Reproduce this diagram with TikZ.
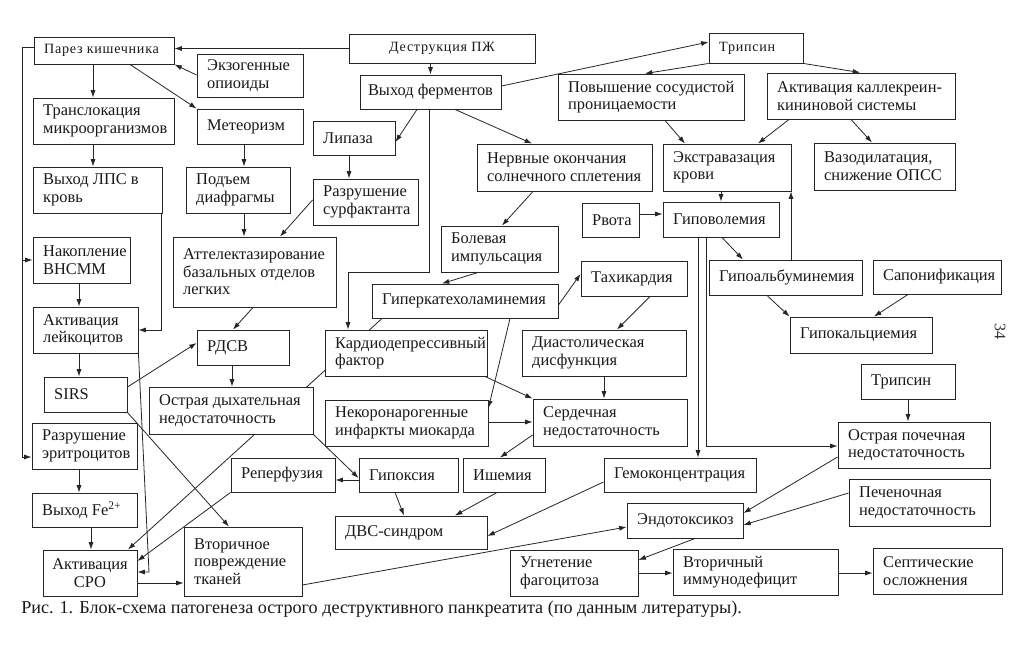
\documentclass[tikz,border=0pt]{standalone}
\usepackage{fontspec}
\setmainfont{Liberation Serif}
\newfontfamily\spacedfont[LetterSpace=5]{Liberation Serif}
\usetikzlibrary{arrows.meta,backgrounds}
\newcommand\bx[7][]{%
  \pgfmathsetmacro\bxw{(#5-#3)*0.75}%
  \pgfmathsetmacro\bxh{(#6-#4)*0.75}%
  \node[box,minimum width=\bxw pt,minimum height=\bxh pt] (#2) at ({(#3+#5)/2},{(#4+#6)/2}) {};%
  \node[txt,anchor=west,#1] at ([xshift=7.8pt]#2.west) {#7};%
}
\newcommand\bxc[7][]{%
  \pgfmathsetmacro\bxw{(#5-#3)*0.75}%
  \pgfmathsetmacro\bxh{(#6-#4)*0.75}%
  \node[box,minimum width=\bxw pt,minimum height=\bxh pt] (#2) at ({(#3+#5)/2},{(#4+#6)/2}) {};%
  \node[txt,align=center,#1] at (#2.center) {#7};%
}
\begin{document}
\begin{tikzpicture}[x=0.75pt,y=-0.75pt,
  box/.style={draw=black!85, line width=0.7pt, fill=white, inner sep=0pt},
  txt/.style={font=\fontsize{12.3}{13.2}\selectfont, align=left, inner sep=0pt, text=black!90},
  sm/.style={font=\spacedfont\fontsize{10.6}{12}\selectfont},
  arr/.style={draw=black!85, line width=0.6pt, -{Latex[length=5.5pt,width=3.8pt]}},
  ln/.style={draw=black!85, line width=0.6pt}]
\useasboundingbox (0,0) rectangle (1028,650);
% boxes
\bx[sm]{parez}{34}{37}{174}{64}{Парез кишечника}
\bx{ekzo}{197}{54}{303}{97}{Экзогенные\\опиоиды}
\bx{transl}{33}{98}{174}{144}{Транслокация\\микроорганизмов}
\bx{meteo}{197}{109}{303}{144}{Метеоризм}
\bx{lps}{33}{167}{162}{213}{Выход ЛПС в\\кровь}
\bx{podem}{186}{167}{290}{213}{Подъем\\диафрагмы}
\bx{lipaza}{313}{121}{395}{155}{Липаза}
\bx{surf}{313}{179}{418}{225}{Разрушение\\сурфактанта}
\bxc[sm]{destr}{349}{34}{535}{63}{Деструкция ПЖ}
\bxc{vyhod}{360}{75}{501}{109}{Выход ферментов}
\bx[sm]{tripsin1}{709}{33}{803}{63}{Трипсин}
\bx{povysh}{558}{74}{744}{120}{Повышение сосудистой\\проницаемости}
\bx{kall}{767}{73}{955}{119}{Активация каллекреин-\\кининовой системы}
\bx{nerv}{477}{144}{652}{191}{Нервные окончания\\солнечного сплетения}
\bx{ekstr}{663}{144}{791}{191}{Экстравазация\\крови}
\bx{vazo}{814}{143}{955}{190}{Вазодилатация,\\снижение ОПСС}
\bx{rvota}{582}{203}{639}{237}{Рвота}
\bx{gipovol}{663}{202}{779}{237}{Гиповолемия}
\bx{bolev}{441}{226}{558}{272}{Болевая\\импульсация}
\bx{nakop}{33}{237}{130}{283}{Накопление\\ВНСММ}
\bx{attel}{173}{237}{336}{307}{Аттелектазирование\\базальных отделов\\легких}
\bx{giperk}{372}{284}{558}{318}{Гиперкатехоламинемия}
\bx{tahi}{581}{261}{687}{296}{Тахикардия}
\bx{gipoalb}{709}{260}{862}{295}{Гипоальбуминемия}
\bx{sapon}{873}{260}{1001}{294}{Сапонификация}
\bx{gipokal}{790}{317}{932}{353}{Гипокальциемия}
\bx{aktlejk}{33}{307}{138}{353}{Активация\\лейкоцитов}
\bx{rdsv}{197}{330}{289}{365}{РДСВ}
\bx{kardio}{325}{330}{487}{376}{Кардиодепрессивный\\фактор}
\bx{diast}{522}{330}{686}{376}{Диастолическая\\дисфункция}
\bx{tripsin2}{861}{364}{955}{399}{Трипсин}
\bx{sirs}{44}{377}{127}{412}{SIRS}
\bx{odn}{149}{387}{313}{434}{Острая дыхательная\\недостаточность}
\bx{nekor}{325}{400}{488}{446}{Некоронарогенные\\инфаркты миокарда}
\bx{serd}{533}{399}{687}{446}{Сердечная\\недостаточность}
\bx{razer}{32}{423}{137}{469}{Разрушение\\эритроцитов}
\bx{opn}{838}{422}{990}{468}{Острая почечная\\недостаточность}
\bx{reperf}{231}{458}{335}{492}{Реперфузия}
\bx{gipoks}{359}{458}{458}{492}{Гипоксия}
\bx{ishem}{463}{458}{545}{492}{Ишемия}
\bx{gemok}{604}{458}{756}{492}{Гемоконцентрация}
\bx{pechen}{849}{479}{990}{526}{Печеночная\\недостаточность}
\bx{fe}{32}{493}{137}{527}{Выход Fe\textsuperscript{2+}}
\bx{endot}{627}{503}{743}{538}{Эндотоксикоз}
\bx{dvs}{335}{516}{487}{549}{ДВС-синдром}
\bx{vtorpovr}{184}{527}{302}{596}{Вторичное\\повреждение\\тканей}
\bxc{sro}{43}{550}{137}{596}{Активация\\СРО}
\bx{ugnet}{510}{550}{638}{596}{Угнетение\\фагоцитоза}
\bx{immun}{673}{549}{838}{595}{Вторичный\\иммунодефицит}
\bx{sept}{873}{548}{1002}{594}{Септические\\осложнения}
\node[anchor=base west, inner sep=0pt, font=\fontsize{13.6}{15}\selectfont, text=black!90] (cap) at (21,613) {Рис. 1. Блок-схема патогенеза острого деструктивного панкреатита (по данным литературы).};
\node[rotate=-90, inner sep=0pt, font=\fontsize{12}{14}\selectfont, text=black!80] (page) at (1000,331) {34};
\begin{pgfonlayer}{background}
\fill[white] (0,0) rectangle (1028,650);
\draw[arr] (destr.west) -- (destr.west -| parez.east);
\draw[arr] (vyhod.north |- destr.south) -- (vyhod.north);
\draw[arr] (vyhod.east |- 0,86) -- (tripsin1.west |- 0,42);
\draw[arr] (tripsin1.south west) -- (povysh.north -| 645,0);
\draw[arr] (tripsin1.south east) -- (kall.north -| 860,0);
\draw[arr] (povysh.south -| 665,0) -- (ekstr.north -| 685,0);
\draw[arr] (kall.south -| 789,0) -- (ekstr.north -| 758,0);
\draw[arr] (kall.south -| 851,0) -- (vazo.north -| 872,0);
\draw[arr] (vyhod.south -| 417,0) -- (lipaza.east |- 0,142);
\draw[arr] (vyhod.south -| 455,0) -- (nerv.north -| 532,0);
\draw[arr] (vyhod.south -| 429,0) -- (429,272) -- (348,272) -- (kardio.north -| 348,0);
\draw[arr] (lipaza.south -| 349,0) -- (surf.north -| 349,0);
\draw[arr] (surf.west |- 0,200) -- (attel.north -| 280,0);
\draw[arr] (parez.south -| 93,0) -- (transl.north -| 93,0);
\draw[arr] (parez.south -| 130,0) -- (meteo.north west);
\draw[arr] (ekzo.west |- 0,75) -- (parez.south east);
\draw[arr] (transl.south -| 93,0) -- (lps.north -| 93,0);
\draw[arr] (meteo.south -| 244,0) -- (podem.north -| 244,0);
\draw[arr] (podem.south -| 244,0) -- (attel.north -| 244,0);
\draw[arr] (parez.west |- 0,47) -- (22,47) -- (22,457) -- (razer.west |- 0,457);
\draw[arr] (22,260) -- (nakop.west |- 0,260);
\draw[arr] (lps.south -| 161,0) -- (161,330) -- (aktlejk.east |- 0,330);
\draw[arr] (nakop.south -| 79,0) -- (aktlejk.north -| 79,0);
\draw[arr] (aktlejk.south -| 79,0) -- (sirs.north -| 79,0);
\draw[arr] (aktlejk.south east) -- (149,572) -- (sro.east |- 0,572);
\draw[arr] (sirs.east |- 0,387) -- (rdsv.west |- 0,343);
\draw[arr] (sirs.south east) -- (vtorpovr.north -| 229,0);
\draw[arr] (attel.south -| 253,0) -- (rdsv.north -| 233,0);
\draw[arr] (rdsv.south -| 232,0) -- (odn.north -| 232,0);
\draw[arr] (giperk.south -| 382,0) -- (sro.north -| 128,0);
\draw[arr] (odn.south east) -- (gipoks.west |- 0,478);
\draw[arr] (reperf.south west) -- (sro.east |- 0,561);
\draw[arr] (gipoks.west |- 0,480) -- (reperf.east |- 0,480);
\draw[arr] (giperk.east |- 0,305) -- (tahi.west |- 0,274);
\draw[arr] (giperk.south -| 510,0) -- (nekor.east |- 0,408);
\draw[arr] (tahi.south -| 650,0) -- (diast.north -| 617,0);
\draw[arr] (diast.south -| 604,0) -- (serd.north -| 604,0);
\draw[arr] (kardio.south -| 485,0) -- (serd.north west);
\draw[arr] (nekor.east |- 0,422) -- (serd.west |- 0,422);
\draw[arr] (serd.west |- 0,435) -- (ishem.north -| 500,0);
\draw[arr] (gipoks.south -| 395,0) -- (dvs.north -| 404,0);
\draw[arr] (ishem.south -| 497,0) -- (dvs.north -| 455,0);
\draw[arr] (gemok.west |- 0,482) -- (dvs.east |- 0,536);
\draw[arr] (vtorpovr.east |- 0,585) -- (endot.west |- 0,527);
\draw[arr] (endot.south -| 695,0) -- (ugnet.east |- 0,560);
\draw[arr] (ugnet.east |- 0,573) -- (immun.west |- 0,573);
\draw[arr] (immun.east |- 0,573) -- (sept.west |- 0,573);
\draw[arr] (opn.west |- 0,457) -- (endot.east |- 0,513);
\draw[arr] (pechen.west |- 0,493) -- (endot.east |- 0,525);
\draw[arr] (tripsin2.south -| 908,0) -- (opn.north -| 908,0);
\draw[arr] (gipovol.south -| 698,0) -- (gemok.north -| 698,0);
\draw[arr] (gipovol.south -| 706,0) -- (706,446) -- (opn.west |- 0,446);
\draw[arr] (gipoalb.north -| 791,0) -- (ekstr.south -| 791,0);
\draw[arr] (gipovol.south -| 722,0) -- (gipoalb.north -| 743,0);
\draw[arr] (gipoalb.south -| 767,0) -- (gipokal.north west);
\draw[arr] (sapon.south -| 908,0) -- (gipokal.north -| 874,0);
\draw[arr] (rvota.east |- 0,214) -- (gipovol.west |- 0,214);
\draw[arr] (ekstr.south -| 721,0) -- (gipovol.north -| 721,0);
\draw[arr] (bolev.south -| 478,0) -- (giperk.north -| 442,0);
\draw[arr] (nerv.south -| 533,0) -- (bolev.north -| 502,0);
\draw[arr] (sro.east |- 0,583) -- (vtorpovr.west |- 0,583);
\draw[arr] (razer.south -| 79,0) -- (fe.north -| 79,0);
\draw[arr] (fe.south -| 91,0) -- (sro.north -| 91,0);
\end{pgfonlayer}
\end{tikzpicture}
\end{document}
